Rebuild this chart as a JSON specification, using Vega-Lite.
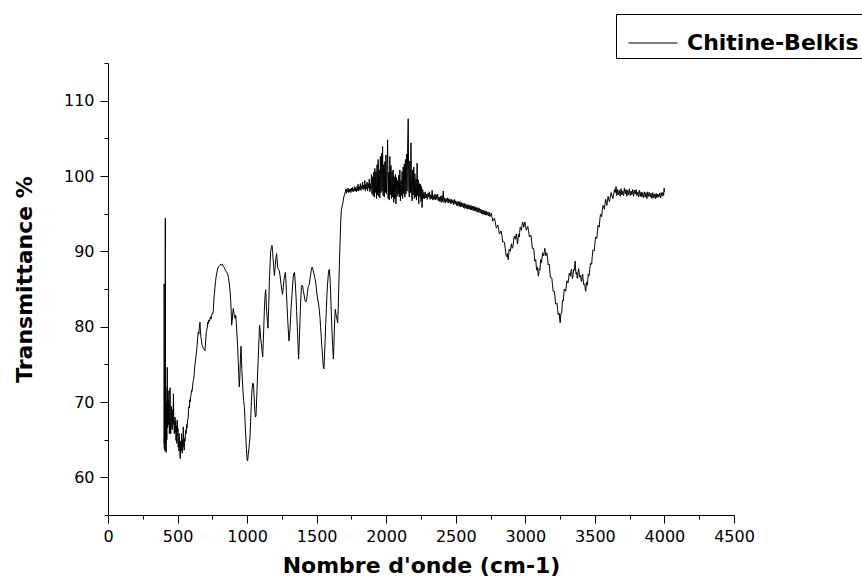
{
 "$schema": "https://vega.github.io/schema/vega-lite/v6.json",
 "width": 626,
 "height": 452,
 "autosize": {"type": "none"},
 "padding": {"left": 108, "top": 63, "right": 128, "bottom": 70},
 "background": "white",
 "config": {"view": {"stroke": null}, "font": "DejaVu Sans"},
 "data": {"values": [
{"w":403,"t":64.5},{"w":404,"t":85.7},{"w":405,"t":63.8},{"w":407,"t":74},{"w":408,"t":66},{"w":410,"t":63.5},{"w":412,"t":94.4},{"w":414,"t":64.5},{"w":416,"t":72},{"w":418,"t":63.3},{"w":420,"t":70},{"w":423,"t":65},{"w":426,"t":74.6},{"w":429,"t":66.6},{"w":431,"t":68.5},{"w":433,"t":70.2},{"w":436,"t":67},{"w":438,"t":71.5},{"w":441,"t":65.8},{"w":444,"t":67.5},{"w":446,"t":71.9},{"w":449,"t":67},{"w":451,"t":65.8},{"w":454,"t":68},{"w":457,"t":69.4},{"w":459,"t":66.5},{"w":462,"t":66.3},{"w":465,"t":69},{"w":468,"t":67},{"w":470,"t":71.1},{"w":473,"t":68},{"w":475,"t":66.5},{"w":477,"t":65.8},{"w":480,"t":67.5},{"w":482,"t":68.0},{"w":485,"t":66},{"w":487,"t":67.5},{"w":489,"t":64.9},{"w":492,"t":66.8},{"w":495,"t":64.5},{"w":498,"t":67.6},{"w":501,"t":65.5},{"w":503,"t":66.5},{"w":505,"t":64.0},{"w":508,"t":65.2},{"w":510,"t":63.5},{"w":512,"t":65.8},{"w":515,"t":64},{"w":518,"t":62.6},{"w":520,"t":62.5},{"w":523,"t":64.8},{"w":526,"t":63.5},{"w":529,"t":65.8},{"w":531,"t":64.5},{"w":534,"t":63.2},{"w":537,"t":65},{"w":539,"t":64},{"w":541,"t":66.7},{"w":544,"t":65},{"w":546,"t":64.2},{"w":548,"t":63.6},{"w":551,"t":65.2},{"w":554,"t":64.8},{"w":558,"t":66.3},{"w":561,"t":65.8},{"w":565,"t":67.0},{"w":568,"t":66.5},{"w":572,"t":67.6},{"w":576,"t":67.8},{"w":579,"t":69},{"w":582,"t":69.4},{"w":585,"t":69.2},{"w":588,"t":70.3},{"w":591,"t":70.0},{"w":594,"t":70.7},{"w":597,"t":71.0},{"w":601,"t":71.6},{"w":604,"t":71.4},{"w":608,"t":72.0},{"w":612,"t":72.8},{"w":616,"t":73.0},{"w":620,"t":73.8},{"w":624,"t":74.8},{"w":628,"t":75.4},{"w":632,"t":76.0},{"w":637,"t":76.8},{"w":641,"t":77.6},{"w":645,"t":78.6},{"w":649,"t":79.3},{"w":653,"t":79.0},{"w":657,"t":80.0},{"w":661,"t":80.6},{"w":664,"t":79.6},{"w":668,"t":78.6},{"w":672,"t":78.2},{"w":676,"t":77.6},{"w":680,"t":77.4},{"w":685,"t":77.1},{"w":690,"t":77.0},{"w":697,"t":76.8},{"w":702,"t":78},{"w":706,"t":79.2},{"w":709,"t":79.5},{"w":713,"t":79.8},{"w":717,"t":80.6},{"w":721,"t":80.4},{"w":725,"t":80.9},{"w":729,"t":80.7},{"w":733,"t":81.0},{"w":737,"t":81.3},{"w":741,"t":81.0},{"w":745,"t":81.5},{"w":749,"t":81.8},{"w":753,"t":81.7},{"w":757,"t":82.1},{"w":761,"t":83.6},{"w":765,"t":84.4},{"w":769,"t":85.2},{"w":773,"t":86.0},{"w":777,"t":86.6},{"w":781,"t":87.0},{"w":786,"t":87.5},{"w":791,"t":87.8},{"w":795,"t":88.0},{"w":800,"t":88.1},{"w":805,"t":88.1},{"w":810,"t":88.3},{"w":815,"t":88.2},{"w":822,"t":88.3},{"w":828,"t":88.0},{"w":835,"t":87.9},{"w":841,"t":87.6},{"w":847,"t":87.4},{"w":853,"t":87.2},{"w":860,"t":87.0},{"w":866,"t":86.5},{"w":872,"t":85.7},{"w":877,"t":84.8},{"w":882,"t":83.5},{"w":886,"t":81.8},{"w":889,"t":80.2},{"w":893,"t":80.8},{"w":897,"t":81.8},{"w":901,"t":82.4},{"w":905,"t":81.8},{"w":909,"t":81.4},{"w":913,"t":81.1},{"w":918,"t":81.5},{"w":922,"t":80.6},{"w":927,"t":79.0},{"w":932,"t":77.4},{"w":936,"t":75.5},{"w":940,"t":73.6},{"w":944,"t":72.0},{"w":948,"t":73.5},{"w":952,"t":75.8},{"w":956,"t":77.4},{"w":959,"t":76.0},{"w":962,"t":74.3},{"w":966,"t":72.9},{"w":970,"t":71.5},{"w":975,"t":70.2},{"w":980,"t":69.4},{"w":985,"t":67.5},{"w":990,"t":65.5},{"w":995,"t":63.8},{"w":1000,"t":62.3},{"w":1004,"t":62.2},{"w":1008,"t":63.0},{"w":1013,"t":63.8},{"w":1017,"t":64.6},{"w":1021,"t":65.4},{"w":1026,"t":67.8},{"w":1031,"t":70.2},{"w":1035,"t":71.6},{"w":1039,"t":72.4},{"w":1044,"t":72.5},{"w":1048,"t":71.6},{"w":1052,"t":70.0},{"w":1056,"t":68.7},{"w":1060,"t":68.0},{"w":1064,"t":68.2},{"w":1068,"t":70.0},{"w":1072,"t":72.0},{"w":1076,"t":74.0},{"w":1080,"t":75.8},{"w":1084,"t":77.6},{"w":1088,"t":79.5},{"w":1090,"t":80.2},{"w":1094,"t":79.4},{"w":1098,"t":78.4},{"w":1102,"t":77.8},{"w":1107,"t":76.8},{"w":1112,"t":76.0},{"w":1116,"t":77.8},{"w":1120,"t":80.0},{"w":1124,"t":82.2},{"w":1128,"t":83.8},{"w":1133,"t":84.9},{"w":1137,"t":83.6},{"w":1140,"t":82.2},{"w":1145,"t":80.8},{"w":1150,"t":79.8},{"w":1155,"t":82.5},{"w":1160,"t":86.1},{"w":1165,"t":88.3},{"w":1169,"t":89.9},{"w":1174,"t":90.5},{"w":1179,"t":90.8},{"w":1183,"t":90.0},{"w":1186,"t":89.2},{"w":1191,"t":88.0},{"w":1196,"t":86.8},{"w":1200,"t":87.6},{"w":1203,"t":88.3},{"w":1208,"t":89.2},{"w":1212,"t":89.7},{"w":1216,"t":88.8},{"w":1219,"t":87.9},{"w":1225,"t":87.6},{"w":1232,"t":87.4},{"w":1238,"t":86.6},{"w":1244,"t":85.6},{"w":1250,"t":84.8},{"w":1255,"t":84.3},{"w":1260,"t":85.2},{"w":1264,"t":86.1},{"w":1270,"t":86.8},{"w":1275,"t":87.2},{"w":1279,"t":86.2},{"w":1282,"t":84.7},{"w":1287,"t":82.8},{"w":1291,"t":81.2},{"w":1296,"t":79.6},{"w":1301,"t":78.1},{"w":1306,"t":79.0},{"w":1310,"t":80.3},{"w":1316,"t":82.4},{"w":1323,"t":84.3},{"w":1328,"t":85.8},{"w":1334,"t":87.0},{"w":1341,"t":87.2},{"w":1346,"t":85.8},{"w":1352,"t":83.9},{"w":1356,"t":82.0},{"w":1361,"t":79.9},{"w":1366,"t":77.6},{"w":1370,"t":75.7},{"w":1375,"t":78.0},{"w":1380,"t":80.8},{"w":1385,"t":83.2},{"w":1390,"t":85.2},{"w":1395,"t":85.5},{"w":1399,"t":85.4},{"w":1404,"t":84.8},{"w":1409,"t":84.3},{"w":1413,"t":83.8},{"w":1418,"t":83.4},{"w":1423,"t":83.3},{"w":1428,"t":83.6},{"w":1433,"t":84.4},{"w":1438,"t":85.2},{"w":1442,"t":85.4},{"w":1447,"t":85.6},{"w":1452,"t":86.4},{"w":1457,"t":87.0},{"w":1462,"t":87.5},{"w":1467,"t":87.9},{"w":1471,"t":87.7},{"w":1476,"t":87.4},{"w":1481,"t":87.0},{"w":1486,"t":86.5},{"w":1490,"t":86.2},{"w":1495,"t":85.6},{"w":1500,"t":84.6},{"w":1505,"t":83.9},{"w":1510,"t":83.4},{"w":1514,"t":83.0},{"w":1519,"t":82.2},{"w":1524,"t":81.2},{"w":1528,"t":80.0},{"w":1533,"t":78.6},{"w":1538,"t":77.2},{"w":1543,"t":75.9},{"w":1548,"t":74.6},{"w":1552,"t":74.4},{"w":1555,"t":75.5},{"w":1560,"t":77.8},{"w":1565,"t":80.3},{"w":1570,"t":82.4},{"w":1574,"t":84.3},{"w":1579,"t":85.8},{"w":1584,"t":87.0},{"w":1588,"t":87.5},{"w":1591,"t":87.6},{"w":1596,"t":86.4},{"w":1600,"t":84.7},{"w":1605,"t":82.0},{"w":1610,"t":79.4},{"w":1615,"t":77.4},{"w":1620,"t":75.7},{"w":1624,"t":77.4},{"w":1627,"t":79.4},{"w":1630,"t":81.0},{"w":1634,"t":82.3},{"w":1639,"t":81.6},{"w":1644,"t":81.2},{"w":1648,"t":80.8},{"w":1651,"t":80.5},{"w":1655,"t":82.5},{"w":1658,"t":84.7},{"w":1663,"t":88.0},{"w":1668,"t":91.0},{"w":1672,"t":93.5},{"w":1677,"t":95.4},{"w":1683,"t":96.0},{"w":1689,"t":96.5},{"w":1695,"t":97.2},{"w":1701,"t":97.6},
{"w":1706,"t":97.9},{"w":1710,"t":98.3},{"w":1714,"t":97.7},{"w":1718,"t":98.2},{"w":1722,"t":97.9},{"w":1726,"t":98.4},{"w":1730,"t":97.8},{"w":1734,"t":98.2},{"w":1738,"t":97.9},{"w":1742,"t":98.3},{"w":1746,"t":97.8},{"w":1750,"t":98.4},{"w":1754,"t":98.0},{"w":1758,"t":98.5},{"w":1762,"t":97.9},{"w":1766,"t":98.3},{"w":1770,"t":98.0},{"w":1774,"t":98.6},{"w":1778,"t":98.0},{"w":1782,"t":98.4},{"w":1786,"t":97.9},{"w":1790,"t":98.6},{"w":1794,"t":98.1},{"w":1798,"t":98.9},{"w":1802,"t":98.0},{"w":1806,"t":98.6},{"w":1810,"t":98.2},{"w":1814,"t":99.0},{"w":1818,"t":98.1},{"w":1822,"t":98.7},{"w":1826,"t":98.3},{"w":1830,"t":99.2},{"w":1834,"t":98.2},{"w":1838,"t":98.8},{"w":1842,"t":98.3},{"w":1846,"t":99.4},{"w":1850,"t":98.0},{"w":1854,"t":98.9},{"w":1858,"t":98.3},{"w":1862,"t":99.2},{"w":1866,"t":98.0},{"w":1870,"t":99.0},{"w":1874,"t":98.4},{"w":1878,"t":99.6},{"w":1882,"t":97.9},{"w":1886,"t":99.0},{"w":1890,"t":98.2},{"w":1894,"t":100.2},{"w":1898,"t":97.6},{"w":1902,"t":99.9},
{"w":1906,"t":97.4},{"w":1910,"t":100.5},{"w":1914,"t":97.2},{"w":1918,"t":101.0},{"w":1922,"t":97.8},{"w":1926,"t":100.6},{"w":1930,"t":97.0},{"w":1934,"t":101.5},{"w":1938,"t":97.5},{"w":1942,"t":102.2},{"w":1946,"t":97.3},{"w":1950,"t":100.8},{"w":1954,"t":97.1},{"w":1958,"t":102.6},{"w":1962,"t":97.8},{"w":1966,"t":103.0},{"w":1970,"t":98.0},{"w":1974,"t":103.9},{"w":1978,"t":97.4},{"w":1982,"t":101.5},{"w":1986,"t":97.2},{"w":1990,"t":101.9},{"w":1994,"t":97.8},{"w":1998,"t":102.8},{"w":2002,"t":97.6},{"w":2006,"t":100.6},{"w":2010,"t":104.8},{"w":2014,"t":97.0},{"w":2018,"t":100.5},{"w":2022,"t":96.8},{"w":2026,"t":102.6},{"w":2030,"t":97.5},{"w":2034,"t":101.4},{"w":2038,"t":97.0},{"w":2042,"t":100.6},{"w":2046,"t":97.2},{"w":2050,"t":100.8},{"w":2054,"t":96.5},{"w":2058,"t":99.9},{"w":2062,"t":97.0},{"w":2066,"t":100.2},{"w":2070,"t":96.3},{"w":2074,"t":99.8},{"w":2078,"t":97.3},{"w":2082,"t":99.4},{"w":2086,"t":97.6},{"w":2090,"t":100.1},{"w":2094,"t":97.2},{"w":2098,"t":100.8},{"w":2102,"t":96.7},{"w":2106,"t":99.4},{"w":2110,"t":97.4},{"w":2114,"t":100.6},{"w":2118,"t":97.0},{"w":2122,"t":101.2},{"w":2126,"t":97.6},{"w":2130,"t":101.6},{"w":2134,"t":97.2},{"w":2138,"t":102.2},{"w":2142,"t":97.6},{"w":2146,"t":102.9},{"w":2150,"t":98.0},{"w":2154,"t":103.8},{"w":2158,"t":107.6},{"w":2162,"t":98.2},{"w":2166,"t":97.2},{"w":2170,"t":102.0},{"w":2174,"t":97.8},{"w":2178,"t":104.4},{"w":2182,"t":98.0},{"w":2186,"t":96.7},{"w":2190,"t":100.8},{"w":2194,"t":97.5},{"w":2198,"t":101.2},{"w":2202,"t":97.0},{"w":2206,"t":100.3},{"w":2210,"t":97.2},{"w":2214,"t":99.6},{"w":2218,"t":96.8},{"w":2222,"t":101.7},{"w":2226,"t":97.4},{"w":2230,"t":99.5},{"w":2234,"t":96.3},{"w":2238,"t":99.0},{"w":2242,"t":97.2},{"w":2246,"t":98.9},{"w":2250,"t":96.6},{"w":2254,"t":98.6},{"w":2258,"t":95.8},{"w":2262,"t":98.2},{"w":2266,"t":97.0},{"w":2270,"t":97.8},
{"w":2275,"t":97.0},{"w":2280,"t":97.9},{"w":2285,"t":97.1},{"w":2290,"t":97.6},{"w":2295,"t":96.9},{"w":2300,"t":97.7},{"w":2305,"t":97.2},{"w":2310,"t":97.9},{"w":2315,"t":96.9},{"w":2320,"t":97.5},{"w":2325,"t":97.0},{"w":2330,"t":98.1},{"w":2335,"t":96.8},{"w":2340,"t":97.4},{"w":2345,"t":96.9},{"w":2350,"t":97.6},{"w":2355,"t":96.8},{"w":2360,"t":97.5},{"w":2365,"t":96.9},{"w":2370,"t":97.6},{"w":2375,"t":96.7},{"w":2380,"t":97.2},{"w":2385,"t":96.6},{"w":2390,"t":97.3},{"w":2395,"t":96.5},{"w":2400,"t":97.4},{"w":2405,"t":96.6},{"w":2410,"t":98.0},{"w":2415,"t":96.5},{"w":2420,"t":97.1},{"w":2425,"t":96.4},{"w":2430,"t":97.0},{"w":2435,"t":96.6},{"w":2440,"t":97.1},{"w":2445,"t":96.4},{"w":2450,"t":97.0},{"w":2455,"t":96.5},{"w":2460,"t":96.9},{"w":2465,"t":96.3},{"w":2470,"t":96.9},{"w":2475,"t":96.4},{"w":2480,"t":96.8},{"w":2485,"t":96.2},{"w":2490,"t":96.9},{"w":2495,"t":96.3},{"w":2500,"t":96.7},{"w":2505,"t":96.1},{"w":2510,"t":96.6},{"w":2515,"t":96.0},{"w":2520,"t":96.6},{"w":2525,"t":96.0},{"w":2530,"t":96.6},{"w":2535,"t":95.9},{"w":2540,"t":96.5},{"w":2545,"t":95.9},{"w":2550,"t":96.4},{"w":2555,"t":95.8},{"w":2560,"t":96.4},{"w":2565,"t":95.7},{"w":2570,"t":96.3},{"w":2575,"t":95.7},{"w":2580,"t":96.2},{"w":2585,"t":95.6},{"w":2590,"t":96.2},{"w":2595,"t":95.6},{"w":2600,"t":96.1},{"w":2605,"t":95.5},{"w":2610,"t":96.1},{"w":2615,"t":95.5},{"w":2620,"t":96.0},{"w":2625,"t":95.4},{"w":2630,"t":96.0},{"w":2635,"t":95.4},{"w":2640,"t":95.9},{"w":2645,"t":95.3},{"w":2650,"t":95.8},{"w":2655,"t":95.2},{"w":2660,"t":95.8},{"w":2665,"t":95.2},{"w":2670,"t":95.7},{"w":2675,"t":95.1},{"w":2680,"t":95.6},{"w":2685,"t":95.0},{"w":2690,"t":95.5},{"w":2695,"t":94.9},{"w":2700,"t":95.4},{"w":2705,"t":94.9},{"w":2710,"t":95.4},{"w":2715,"t":94.8},{"w":2720,"t":95.3},{"w":2725,"t":94.8},{"w":2730,"t":95.2},{"w":2735,"t":94.7},{"w":2740,"t":95.2},{"w":2745,"t":94.6},
{"w":2750,"t":94.7},{"w":2755,"t":95.1},{"w":2760,"t":94.6},{"w":2766,"t":94.0},{"w":2772,"t":94.2},{"w":2778,"t":94.4},{"w":2785,"t":93.8},{"w":2791,"t":93.1},{"w":2797,"t":93.2},{"w":2802,"t":93.5},{"w":2808,"t":92.9},{"w":2814,"t":92.3},{"w":2820,"t":92.5},{"w":2826,"t":92.7},{"w":2832,"t":92.0},{"w":2838,"t":91.2},{"w":2844,"t":91.3},{"w":2850,"t":91.2},{"w":2856,"t":90.3},{"w":2862,"t":89.4},{"w":2868,"t":89.3},{"w":2871,"t":89.7},{"w":2874,"t":89.2},{"w":2877,"t":88.9},{"w":2880,"t":89.5},{"w":2884,"t":90.3},{"w":2888,"t":90.2},{"w":2892,"t":90.0},{"w":2897,"t":90.7},{"w":2901,"t":91.0},{"w":2905,"t":90.4},{"w":2910,"t":90.5},{"w":2916,"t":91.4},{"w":2920,"t":92.0},{"w":2925,"t":91.8},{"w":2929,"t":91.6},{"w":2933,"t":92.2},{"w":2936,"t":92.3},{"w":2940,"t":91.6},{"w":2943,"t":91.0},{"w":2947,"t":91.3},{"w":2950,"t":92.2},{"w":2953,"t":92.2},{"w":2956,"t":91.9},{"w":2959,"t":92.5},{"w":2963,"t":93.2},{"w":2967,"t":93.0},{"w":2971,"t":92.8},{"w":2976,"t":93.4},{"w":2980,"t":93.9},{"w":2985,"t":93.6},{"w":2989,"t":93.2},{"w":2993,"t":93.6},{"w":2997,"t":93.9},{"w":3002,"t":93.4},{"w":3007,"t":92.8},{"w":3012,"t":93.1},{"w":3018,"t":93.3},{"w":3024,"t":92.6},{"w":3030,"t":91.9},{"w":3036,"t":92.1},{"w":3041,"t":92.1},{"w":3046,"t":91.3},{"w":3050,"t":90.4},{"w":3055,"t":90.4},{"w":3060,"t":90.4},{"w":3064,"t":89.5},{"w":3068,"t":88.7},{"w":3072,"t":88.7},{"w":3075,"t":88.9},{"w":3078,"t":88.2},{"w":3081,"t":87.5},{"w":3084,"t":87.7},{"w":3087,"t":87.9},{"w":3090,"t":87.3},{"w":3093,"t":86.7},{"w":3096,"t":86.9},{"w":3099,"t":87.7},{"w":3102,"t":87.6},{"w":3105,"t":87.5},{"w":3108,"t":88.3},{"w":3111,"t":88.9},{"w":3114,"t":88.7},{"w":3117,"t":88.5},{"w":3120,"t":89.1},{"w":3124,"t":89.8},{"w":3128,"t":89.6},{"w":3132,"t":89.4},{"w":3137,"t":90.0},{"w":3140,"t":90.4},{"w":3144,"t":90.0},{"w":3147,"t":89.4},{"w":3151,"t":89.7},{"w":3155,"t":89.8},{"w":3160,"t":89.0},{"w":3164,"t":88.2},{"w":3168,"t":88.3},{"w":3172,"t":88.3},{"w":3176,"t":87.4},{"w":3180,"t":86.5},{"w":3185,"t":86.5},{"w":3190,"t":86.5},{"w":3195,"t":85.6},{"w":3200,"t":84.7},{"w":3204,"t":84.7},{"w":3209,"t":84.7},{"w":3214,"t":83.8},{"w":3218,"t":83.0},{"w":3223,"t":83.0},{"w":3228,"t":83.1},{"w":3232,"t":82.3},{"w":3236,"t":81.6},{"w":3240,"t":81.7},{"w":3244,"t":81.8},{"w":3247,"t":81.0},{"w":3250,"t":80.5},{"w":3252,"t":80.7},{"w":3255,"t":81.7},{"w":3258,"t":81.8},{"w":3261,"t":81.8},{"w":3264,"t":82.6},{"w":3267,"t":83.5},{"w":3270,"t":83.5},{"w":3273,"t":83.4},{"w":3276,"t":84.2},{"w":3280,"t":85.0},{"w":3285,"t":84.9},{"w":3290,"t":84.7},{"w":3295,"t":85.4},{"w":3299,"t":86.1},{"w":3303,"t":86.0},{"w":3307,"t":85.8},{"w":3311,"t":86.4},{"w":3316,"t":87.1},{"w":3320,"t":86.9},{"w":3324,"t":86.7},{"w":3328,"t":87.4},{"w":3332,"t":87.6},{"w":3335,"t":86.9},{"w":3339,"t":86.4},{"w":3343,"t":86.8},{"w":3347,"t":87.6},{"w":3350,"t":87.5},{"w":3353,"t":87.5},{"w":3356,"t":88.4},{"w":3358,"t":88.7},{"w":3360,"t":88.2},{"w":3363,"t":87.2},{"w":3365,"t":87.0},{"w":3369,"t":87.2},{"w":3372,"t":86.5},{"w":3376,"t":86.4},{"w":3379,"t":87.2},{"w":3383,"t":87.7},{"w":3386,"t":87.4},{"w":3390,"t":86.6},{"w":3393,"t":86.6},{"w":3397,"t":86.8},{"w":3401,"t":86.1},{"w":3405,"t":86.0},{"w":3408,"t":86.7},{"w":3412,"t":87.0},{"w":3415,"t":86.4},{"w":3419,"t":85.6},{"w":3422,"t":85.6},{"w":3427,"t":85.7},{"w":3431,"t":85.0},{"w":3434,"t":84.7},{"w":3437,"t":85.3},{"w":3440,"t":85.9},{"w":3443,"t":85.6},{"w":3446,"t":85.5},{"w":3449,"t":86.2},{"w":3452,"t":87.0},{"w":3455,"t":86.9},{"w":3459,"t":86.8},{"w":3463,"t":87.6},{"w":3468,"t":88.4},{"w":3472,"t":88.3},{"w":3477,"t":88.3},{"w":3481,"t":89.3},{"w":3486,"t":90.2},{"w":3491,"t":90.1},{"w":3496,"t":90.1},{"w":3500,"t":91.0},{"w":3505,"t":91.9},{"w":3510,"t":91.8},{"w":3514,"t":91.7},{"w":3518,"t":92.6},{"w":3523,"t":93.5},{"w":3527,"t":93.4},{"w":3531,"t":93.2},{"w":3535,"t":94.1},{"w":3540,"t":94.9},{"w":3544,"t":94.8},{"w":3549,"t":94.6},{"w":3553,"t":95.4},{"w":3558,"t":96.1},{"w":3563,"t":95.9},{"w":3568,"t":95.6},{"w":3572,"t":96.2},{"w":3577,"t":96.9},{"w":3582,"t":96.5},{"w":3586,"t":96.1},{"w":3590,"t":96.7},{"w":3595,"t":97.3},{"w":3599,"t":96.9},{"w":3605,"t":96.6},{"w":3611,"t":97.2},{"w":3617,"t":97.8},{"w":3623,"t":97.4},{"w":3629,"t":97.0},{"w":3635,"t":97.6},{"w":3641,"t":98.2},{"w":3647,"t":97.8},
{"w":3652,"t":98.6},{"w":3658,"t":97.4},{"w":3664,"t":98.2},{"w":3670,"t":97.5},{"w":3676,"t":98.1},{"w":3682,"t":97.3},{"w":3688,"t":98.3},{"w":3694,"t":97.5},{"w":3700,"t":98.0},{"w":3706,"t":97.4},{"w":3712,"t":98.4},{"w":3718,"t":97.6},{"w":3724,"t":98.2},{"w":3730,"t":97.3},{"w":3736,"t":98.1},{"w":3742,"t":97.5},{"w":3748,"t":98.3},{"w":3754,"t":97.4},{"w":3760,"t":98.0},{"w":3766,"t":97.5},{"w":3772,"t":98.2},{"w":3778,"t":97.3},{"w":3784,"t":98.1},{"w":3790,"t":97.6},{"w":3796,"t":98.2},{"w":3802,"t":97.4},{"w":3808,"t":97.9},{"w":3814,"t":97.2},{"w":3820,"t":98.1},{"w":3826,"t":97.3},{"w":3832,"t":97.9},{"w":3838,"t":97.2},{"w":3844,"t":97.8},{"w":3850,"t":97.1},{"w":3856,"t":97.9},{"w":3862,"t":97.2},{"w":3868,"t":97.8},{"w":3874,"t":97.0},{"w":3880,"t":97.9},{"w":3886,"t":97.3},{"w":3892,"t":97.8},{"w":3898,"t":97.2},{"w":3904,"t":97.7},{"w":3910,"t":97.0},{"w":3916,"t":97.8},{"w":3922,"t":97.1},{"w":3928,"t":97.6},{"w":3934,"t":97.0},{"w":3940,"t":97.7},{"w":3946,"t":97.1},{"w":3952,"t":97.6},{"w":3958,"t":97.2},{"w":3964,"t":97.7},{"w":3970,"t":97.1},{"w":3976,"t":97.8},{"w":3982,"t":97.3},{"w":3988,"t":97.8},{"w":3994,"t":97.4},{"w":3998,"t":98.4},{"w":4000,"t":97.9}
 ]},
 "mark": {"type": "line", "strokeWidth": 1, "color": "black"},
 "encoding": {
  "x": {
   "field": "w", "type": "quantitative",
   "scale": {"domain": [0, 4500], "nice": false, "zero": false},
   "axis": {
    "title": "Nombre d'onde (cm-1)",
    "values": [0,250,500,750,1000,1250,1500,1750,2000,2250,2500,2750,3000,3250,3500,3750,4000,4250,4500],
    "format": "d",
    "labelExpr": "datum.value % 500 === 0 ? datum.label : ''",
    "tickSize": {"condition": {"test": "datum.value % 500 === 0", "value": 8}, "value": 4},
    "grid": false,
    "domainColor": "black", "domainWidth": 1,
    "tickColor": "black", "tickWidth": 1,
    "labelColor": "black", "labelFont": "DejaVu Sans", "labelFontSize": 16,
    "labelPadding": 5, "labelFlush": false, "labelOverlap": false,
    "titleFont": "DejaVu Sans", "titleFontSize": 22, "titleFontWeight": "bold", "titleColor": "black",
    "titlePadding": 11
   }
  },
  "y": {
   "field": "t", "type": "quantitative",
   "scale": {"domain": [55, 115], "nice": false, "zero": false},
   "axis": {
    "title": "Transmittance %",
    "values": [55,60,65,70,75,80,85,90,95,100,105,110,115],
    "format": "d",
    "labelExpr": "datum.value % 10 === 0 ? datum.label : ''",
    "tickSize": {"condition": {"test": "datum.value % 10 === 0", "value": 8}, "value": 4},
    "grid": false,
    "domainColor": "black", "domainWidth": 1,
    "tickColor": "black", "tickWidth": 1,
    "labelColor": "black", "labelFont": "DejaVu Sans", "labelFontSize": 16,
    "labelPadding": 6, "labelOverlap": false,
    "titleFont": "DejaVu Sans", "titleFontSize": 22, "titleFontWeight": "bold", "titleColor": "black",
    "titlePadding": 27, "titleY": 216
   }
  },
  "color": {
   "datum": "Chitine-Belkis", "type": "nominal",
   "scale": {"range": ["black"]},
   "legend": {
    "orient": "none", "legendX": 508, "legendY": -49,
    "title": null, "strokeColor": "black", "fillColor": "white", "padding": 4,
    "symbolType": "stroke", "symbolSize": 2400, "symbolStrokeWidth": 1, "symbolStrokeColor": "black",
    "symbolOffset": 8,
    "labelFont": "DejaVu Sans", "labelFontSize": 22, "labelFontWeight": "bold", "labelColor": "black",
    "labelOffset": 9, "labelLimit": 400
   }
  }
 }
}
